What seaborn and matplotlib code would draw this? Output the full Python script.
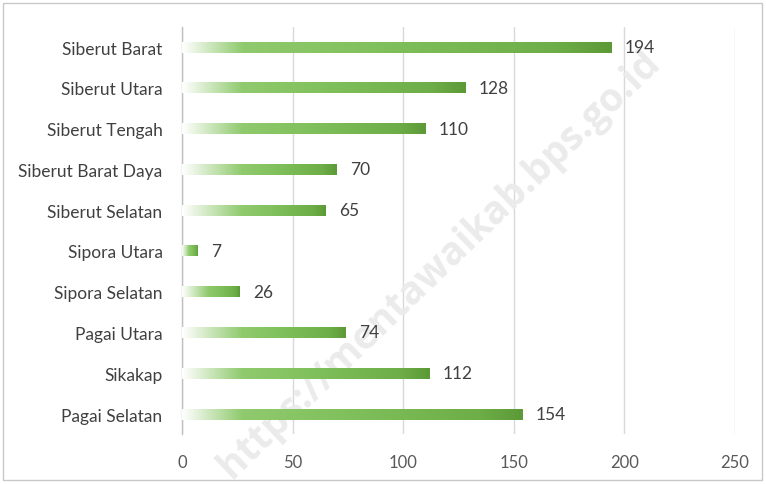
import numpy as np
import pandas as pd
import matplotlib
matplotlib.use('Agg')
import matplotlib.pyplot as plt
from matplotlib.colors import LinearSegmentedColormap
from matplotlib.patches import Rectangle
import seaborn as sns

# Data
kecamatan = ['Siberut Barat', 'Siberut Utara', 'Siberut Tengah', 'Siberut Barat Daya',
             'Siberut Selatan', 'Sipora Utara', 'Sipora Selatan', 'Pagai Utara',
             'Sikakap', 'Pagai Selatan']
jumlah = [194, 128, 110, 70, 65, 7, 26, 74, 112, 154]
x_ticks = [0, 50, 100, 150, 200, 250]

df = pd.DataFrame({'kecamatan': kecamatan, 'jumlah': jumlah})

sns.set_theme(style='white')
plt.rcParams['font.family'] = ['Lato', 'DejaVu Sans']

fig = plt.figure(figsize=(7.66, 4.85), dpi=100)
ax = fig.add_axes([0.2376, 0.1022, 0.9595 - 0.2376, 0.943 - 0.1022])

sns.barplot(data=df, x='jumlah', y='kecamatan', orient='h', width=0.27,
            color='#70ad47', ax=ax, zorder=3)

# gradient fill: white on the left fading into green, darker at the tip
grad_cmap = LinearSegmentedColormap.from_list(
    'bar_grad', [(0.0, '#ffffff'), (0.35, '#90ca6e'), (0.6, '#80c05c'),
                 (0.9, '#6eae48'), (1.0, '#5c9a38')])
for patch in ax.patches:
    x0, y0 = patch.get_x(), patch.get_y()
    w, h = patch.get_width(), patch.get_height()
    patch.set_facecolor('none')
    patch.set_edgecolor('none')
    t = np.linspace(0, 1, 256)
    fade = min(27.0, 0.45 * w) / w
    vals = np.where(t < fade, 0.35 * t / fade,
                    0.35 + 0.65 * (t - fade) / (1 - fade))
    img = ax.imshow(vals[np.newaxis, :], cmap=grad_cmap, vmin=0, vmax=1,
                    extent=[x0, x0 + w, y0 + h, y0], aspect='auto',
                    interpolation='bicubic', zorder=3)
    img.set_clip_path(patch)

for i, v in enumerate(jumlah):
    ax.text(v + 6, i, str(v), va='center', ha='left', fontsize=12.5,
            color='#404040', zorder=4)

ax.set_xlim(0, 250)
ax.set_ylim(9.5, -0.5)
ax.set_xticks(x_ticks)
ax.set_xticklabels([str(t) for t in x_ticks], fontsize=12, color='#595959')
ax.tick_params(axis='y', labelsize=12.5, labelcolor='#404040', length=0, pad=14)
ax.tick_params(axis='x', length=0, pad=14)
ax.set_xlabel('')
ax.set_ylabel('')
ax.grid(axis='x', color='#d9d9d9', linewidth=1, zorder=0)
ax.set_axisbelow(True)
for s in ['top', 'right', 'bottom']:
    ax.spines[s].set_visible(False)
ax.spines['left'].set_color('#bfbfbf')
ax.spines['left'].set_linewidth(1)

# watermark, behind bars and labels
ax.text(0.574, 0.455, 'https://mentawaikab.bps.go.id', rotation=44,
        transform=fig.transFigure, ha='center', va='center', fontsize=28,
        fontweight='bold', family=['Open Sans', 'DejaVu Sans'],
        color='#ebebeb', zorder=2, clip_on=False)

# outer frame
fig.patches.append(Rectangle((3 / 766, 4 / 485), 759 / 766, 477 / 485,
                             transform=fig.transFigure, fill=False,
                             edgecolor='#c8c8c8', linewidth=1))

fig.savefig('out.png', dpi=100)
